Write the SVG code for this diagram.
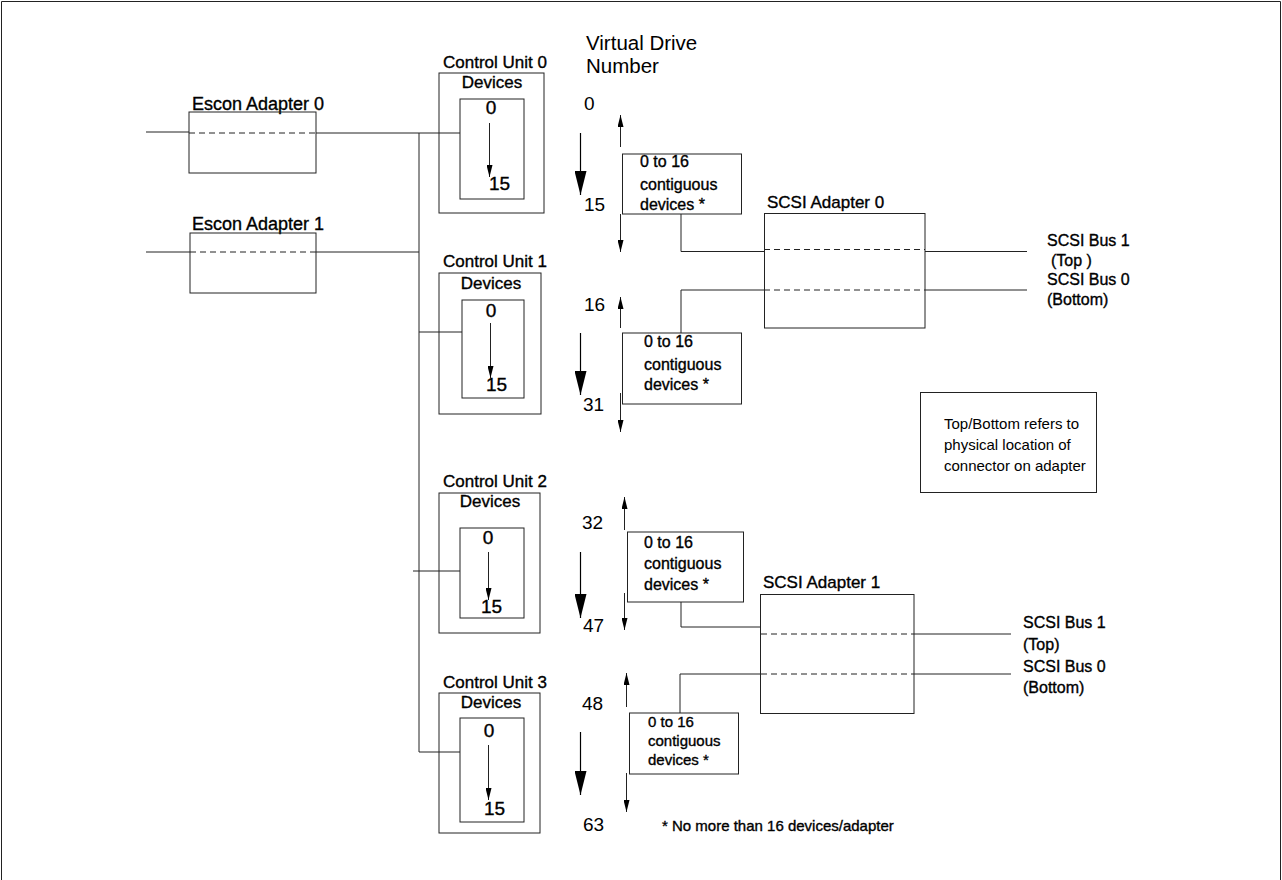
<svg xmlns="http://www.w3.org/2000/svg" width="1282" height="880" viewBox="0 0 1282 880">
<defs>
<style>
text{font-family:"Liberation Sans",Arial,sans-serif;fill:#000}
.hv{stroke:#000;stroke-width:0.35}
.lbl{font-size:17px}
.esc{font-size:18px}
.dig{font-size:19px}
.num{font-size:19px}
.ct{font-size:16px}
.bus{font-size:16px}
.note{font-size:15px}
.box{fill:none;stroke:#222;stroke-width:1}
.ln{fill:none;stroke:#222;stroke-width:1}
.dash{fill:none;stroke:#222;stroke-width:1;stroke-dasharray:6 4}
.sa{fill:none;stroke:#222;stroke-width:1;marker-end:url(#sm)}
.ba{fill:none;stroke:#000;stroke-width:1.2;marker-end:url(#big)}
</style>
<marker id="sm" markerUnits="userSpaceOnUse" markerWidth="12" markerHeight="6" refX="12" refY="3" orient="auto" viewBox="0 0 12 6">
<path d="M0,0 L12,3 L0,6 z" fill="#000"/>
</marker>
<marker id="big" markerUnits="userSpaceOnUse" markerWidth="24" markerHeight="12" refX="24" refY="6" orient="auto" viewBox="0 0 24 12">
<path d="M0,0 L24,6 L0,12 z" fill="#000"/>
</marker>
</defs>
<rect width="1282" height="880" fill="#fff"/>
<path class="ln" d="M1.5,880 V1.5 H1280.5 V880"/>

<g id="connectors">
<path class="ln" d="M146,132 H189"/>
<path class="ln" d="M316,133 H460"/>
<path class="ln" d="M146,252 H190"/>
<path class="ln" d="M316,252 H419"/>
<path class="ln" d="M419,133 V752"/>
<path class="ln" d="M419,332 H462"/>
<path class="ln" d="M413,571 H460"/>
<path class="ln" d="M419,752 H460"/>
<path class="ln" d="M681,214 V251.5 H764"/>
<path class="ln" d="M925,251.5 H1027"/>
<path class="ln" d="M681,333 V290 H764"/>
<path class="ln" d="M925,290 H1027"/>
<path class="ln" d="M681,602 V627 H761"/>
<path class="ln" d="M914,634 H1011"/>
<path class="ln" d="M680,713 V674 H761"/>
<path class="ln" d="M914,674 H1011"/>
<path class="ba" d="M580.5,133 V195"/>
<path class="sa" d="M620.5,147 V115"/>
<path class="sa" d="M620.5,214 V252"/>
<path class="ba" d="M580.5,333 V395"/>
<path class="sa" d="M620.5,328 V297"/>
<path class="sa" d="M620.5,393 V432"/>
<path class="ba" d="M580.5,552 V618"/>
<path class="sa" d="M624.5,530 V497"/>
<path class="sa" d="M624.5,593 V630"/>
<path class="ba" d="M580.5,732 V795"/>
<path class="sa" d="M626.5,773 V812"/>
<path class="sa" d="M626.5,707 V673"/>
</g>

<g id="escon0">
<text class="esc hv" x="192" y="110">Escon Adapter 0</text>
<rect class="box" x="189" y="112" width="127" height="61"/>
<path class="dash" d="M189,133 H316"/>
</g>
<g id="escon1">
<text class="esc hv" x="192" y="230">Escon Adapter 1</text>
<rect class="box" x="190" y="233" width="126" height="60"/>
<path class="dash" d="M190,252 H316"/>
</g>

<g id="cu0">
<text class="lbl hv" x="443" y="68">Control Unit 0</text>
<rect class="box" x="439" y="73" width="105" height="140"/>
<text class="lbl hv" x="492" y="88" text-anchor="middle">Devices</text>
<rect class="box" x="460" y="99" width="64" height="100"/>
<text class="dig hv" x="491" y="114" text-anchor="middle">0</text>
<path class="sa" d="M489.5,123 V177"/>
<text class="dig hv" x="489" y="190">15</text>
</g>
<g id="cu1">
<text class="lbl hv" x="443" y="267">Control Unit 1</text>
<rect class="box" x="439" y="273" width="102" height="141"/>
<text class="lbl hv" x="491" y="289" text-anchor="middle">Devices</text>
<rect class="box" x="462" y="300" width="62" height="98"/>
<text class="dig hv" x="491" y="317" text-anchor="middle">0</text>
<path class="sa" d="M490.5,323 V378"/>
<text class="dig hv" x="486" y="391">15</text>
</g>
<g id="cu2">
<text class="lbl hv" x="443" y="487">Control Unit 2</text>
<rect class="box" x="439" y="493" width="101" height="140"/>
<text class="lbl hv" x="490" y="507" text-anchor="middle">Devices</text>
<rect class="box" x="460" y="528" width="64" height="90"/>
<text class="dig hv" x="488" y="544" text-anchor="middle">0</text>
<path class="sa" d="M488.5,552 V600"/>
<text class="dig hv" x="481" y="613">15</text>
</g>
<g id="cu3">
<text class="lbl hv" x="443" y="688">Control Unit 3</text>
<rect class="box" x="439" y="693" width="101" height="140"/>
<text class="lbl hv" x="491" y="708" text-anchor="middle">Devices</text>
<rect class="box" x="460" y="718" width="64" height="104"/>
<text class="dig hv" x="489" y="737" text-anchor="middle">0</text>
<path class="sa" d="M488.5,745 V800"/>
<text class="dig hv" x="484" y="815">15</text>
</g>

<g id="vdn">
<text style="font-size:20.5px" x="586" y="50">Virtual Drive</text>
<text style="font-size:20.5px" x="586" y="73">Number</text>
<text class="num" x="584" y="110">0</text>
<text class="num" x="584" y="211">15</text>
<text class="num" x="584" y="311">16</text>
<text class="num" x="583" y="411">31</text>
<text class="num" x="582" y="529">32</text>
<text class="num" x="583" y="632">47</text>
<text class="num" x="582" y="710">48</text>
<text class="num" x="583" y="831">63</text>
</g>

<g id="range0">
<rect class="box" x="622.5" y="154" width="119" height="60"/>
<text class="ct hv" x="640" y="167">0 to 16</text>
<text class="ct hv" x="640" y="190">contiguous</text>
<text class="ct hv" x="640" y="210">devices *</text>
</g>
<g id="range1">
<rect class="box" x="622.5" y="333" width="119" height="71"/>
<text class="ct hv" x="644" y="347">0 to 16</text>
<text class="ct hv" x="644" y="370">contiguous</text>
<text class="ct hv" x="644" y="390">devices *</text>
</g>
<g id="range2">
<rect class="box" x="627.5" y="532" width="116" height="70"/>
<text class="ct hv" x="644" y="548">0 to 16</text>
<text class="ct hv" x="644" y="569">contiguous</text>
<text class="ct hv" x="644" y="590">devices *</text>
</g>
<g id="range3">
<rect class="box" x="629.5" y="713" width="109" height="61"/>
<text class="ct hv" style="font-size:15px" x="648" y="727">0 to 16</text>
<text class="ct hv" style="font-size:15px" x="648" y="746">contiguous</text>
<text class="ct hv" style="font-size:15px" x="648" y="765">devices *</text>
</g>

<g id="scsi0">
<text class="lbl hv" x="767" y="208">SCSI Adapter 0</text>
<rect class="box" x="764.5" y="213.5" width="160.5" height="114.5"/>
<path class="dash" d="M764,249.5 H925"/>
<path class="dash" d="M764,290 H925"/>
<text class="bus hv" x="1047" y="246">SCSI Bus 1</text>
<text class="bus hv" x="1051" y="266">(Top )</text>
<text class="bus hv" x="1047" y="285">SCSI Bus 0</text>
<text class="bus hv" x="1047" y="305">(Bottom)</text>
</g>
<g id="scsi1">
<text class="lbl hv" x="763" y="588">SCSI Adapter 1</text>
<rect class="box" x="760.5" y="594.5" width="153.5" height="119"/>
<path class="dash" d="M761,634 H914"/>
<path class="dash" d="M761,674 H914"/>
<text class="bus hv" x="1023" y="628">SCSI Bus 1</text>
<text class="bus hv" x="1023" y="650">(Top)</text>
<text class="bus hv" x="1023" y="672">SCSI Bus 0</text>
<text class="bus hv" x="1023" y="693">(Bottom)</text>
</g>

<g id="note-topbottom">
<rect class="box" x="920.5" y="392.5" width="176" height="100"/>
<text class="note" x="944" y="429">Top/Bottom refers to</text>
<text class="note" x="944" y="450">physical location of</text>
<text class="note" x="944" y="471">connector on adapter</text>
</g>
<g id="footnote">
<text class="note hv" x="662" y="831">* No more than 16 devices/adapter</text>
</g>
</svg>
